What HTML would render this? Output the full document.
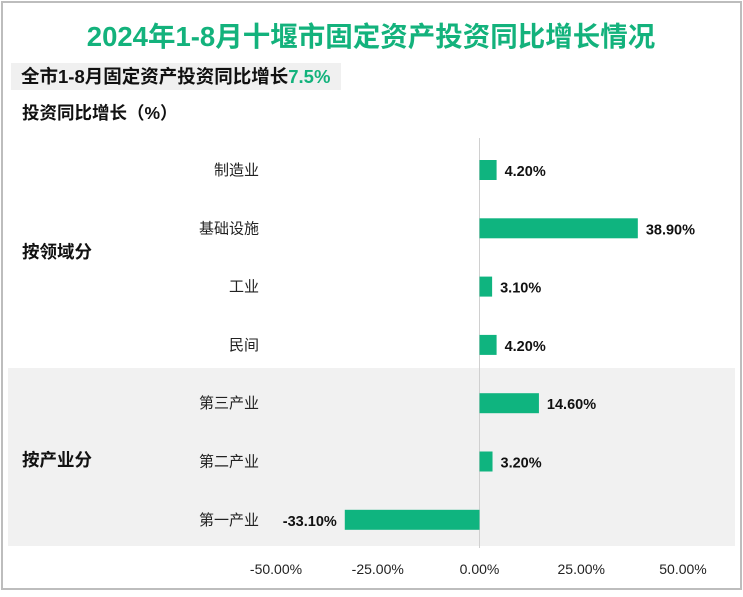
<!DOCTYPE html>
<html><head><meta charset="utf-8"><style>
body{margin:0;width:743px;height:592px;background:#fff;overflow:hidden;font-family:"Liberation Sans","Noto Sans CJK SC",sans-serif}
</style></head><body>
<svg width="743" height="592" xmlns="http://www.w3.org/2000/svg" font-family="Liberation Sans, Noto Sans CJK SC, sans-serif">
<rect x="2" y="2" width="739" height="587" fill="#fff" stroke="#bdbdbd" stroke-width="2"/>
<text x="371" y="46" text-anchor="middle" font-size="27.5" font-weight="bold" fill="#13b27c">2024年1-8月十堰市固定资产投资同比增长情况</text>
<rect x="11" y="63" width="330" height="27" fill="#f0f0f0"/>
<text x="21" y="83" font-size="18.5" font-weight="bold" fill="#111">全市1-8月固定资产投资同比增长<tspan fill="#13b27c">7.5%</tspan></text>
<text x="22" y="119" font-size="17.5" font-weight="bold" fill="#111">投资同比增长（%）</text>
<rect x="8" y="368" width="727" height="178" fill="#f1f1f1"/>
<text x="22" y="258" font-size="17.5" font-weight="bold" fill="#111">按领域分</text>
<text x="22" y="466" font-size="17.5" font-weight="bold" fill="#111">按产业分</text>
<g id="plot"></g>
</svg>
<script>
const categories=["制造业","基础设施","工业","民间","第三产业","第二产业","第一产业"];
const values=[4.2,38.9,3.1,4.2,14.6,3.2,-33.1];
const ticks=[-50,-25,0,25,50];
const ns="http://www.w3.org/2000/svg";
const g=document.getElementById('plot');
const x=v=>479.5+v*4.07;
const yc=i=>170+i*58.3;
function mk(t,a){const e=document.createElementNS(ns,t);for(const k in a)e.setAttribute(k,a[k]);g.appendChild(e);return e;}
const ax=mk('line',{x1:x(0),x2:x(0),y1:138,y2:548,stroke:'#d0d0d0','stroke-width':1});


ticks.forEach(t=>{const e=mk('text',{x:x(t),y:574,'text-anchor':'middle','font-size':14,fill:'#222'});e.textContent=t.toFixed(2)+'%';

});
categories.forEach((c,i)=>{
const cy=yc(i);
const l=mk('text',{x:259,y:cy+5,'text-anchor':'end','font-size':15,fill:'#222'});l.textContent=c;


const v=values[i];
const b=mk('rect',{x:Math.min(x(0),x(v)),y:cy-10,width:Math.abs(x(v)-x(0)),height:20,fill:'#0fb47f'});


const vl=mk('text',{x:v>=0?x(v)+8:x(v)-8,y:cy+6,'text-anchor':v>=0?'start':'end','font-size':14.5,'font-weight':'bold',fill:'#111'});
vl.textContent=v.toFixed(2)+'%';


});
</script>
</body></html>
